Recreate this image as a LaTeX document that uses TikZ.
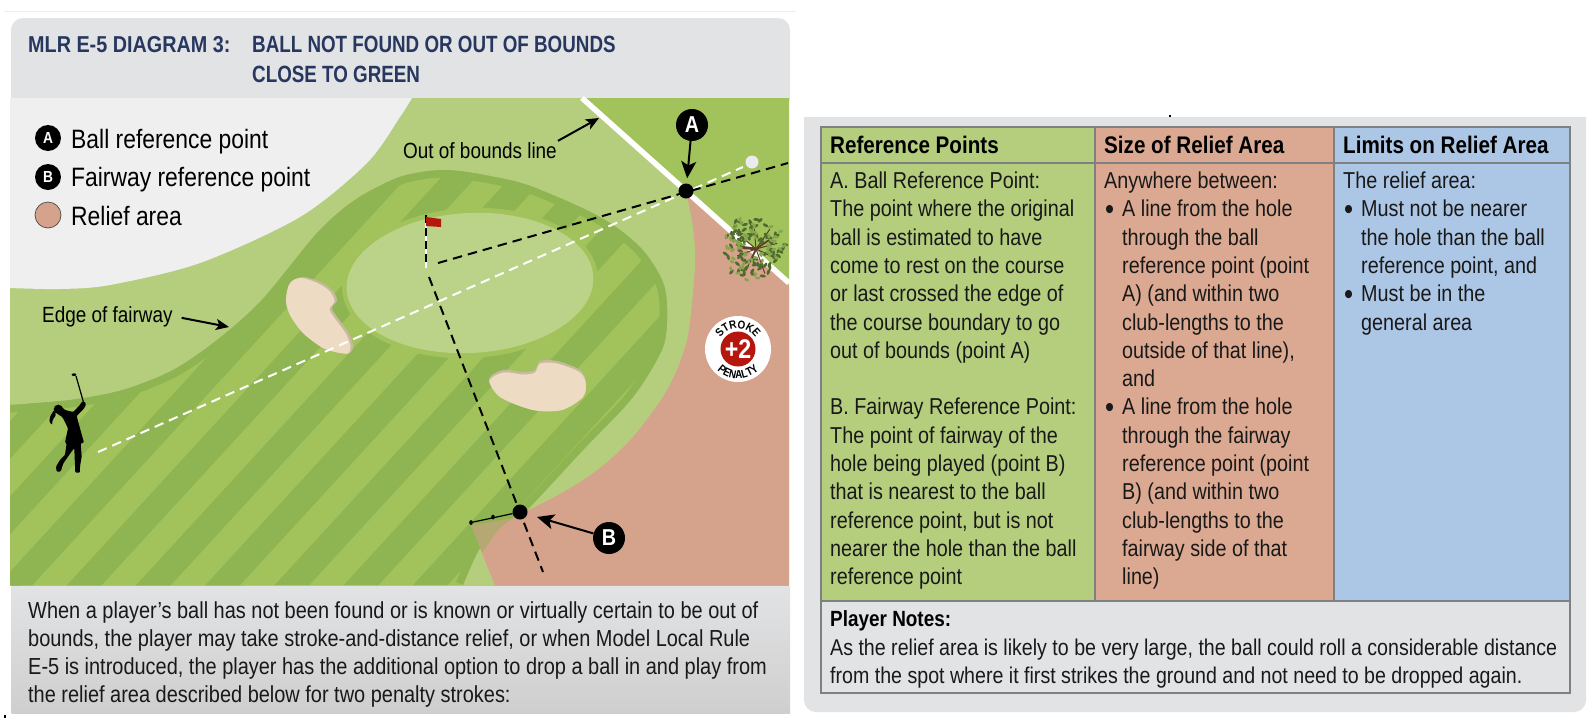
\documentclass[tikz,border=0pt]{standalone}
\usepackage{fontspec}
\setmainfont{Liberation Sans}[FakeStretch=0.86]
\newfontfamily\titlenarrow{Liberation Sans}[FakeStretch=0.80]
\usetikzlibrary{arrows.meta,decorations.text}
\definecolor{panelgrey}{HTML}{E2E3E5}
\definecolor{roughgrey}{HTML}{EFEFF0}
\definecolor{roughgreen}{HTML}{B4CE7E}
\definecolor{lightstripe}{HTML}{A2C25C}
\definecolor{darkstripe}{HTML}{8FB553}
\definecolor{greengreen}{HTML}{BBD388}
\definecolor{reliefpink}{HTML}{D5A28B}
\definecolor{wedgetan}{HTML}{B5A873}
\definecolor{sandlight}{HTML}{EDDCC3}
\definecolor{sanddark}{HTML}{C9B9A2}
\definecolor{navytitle}{HTML}{27375F}
\definecolor{cellgreen}{HTML}{B5CE7E}
\definecolor{cellpink}{HTML}{DBA991}
\definecolor{cellblue}{HTML}{ACC6E6}
\definecolor{tableline}{HTML}{7F8082}
\definecolor{flagred}{HTML}{B5170F}
\definecolor{treebrown}{HTML}{5E3F26}
\definecolor{leafdark}{HTML}{4E6A2E}
\definecolor{leafmid}{HTML}{86A64C}
\newcommand{\bul}{\makebox[18pt][l]{\hspace{1pt}\fontsize{30}{28.3}\selectfont\raisebox{-2.5pt}{\textbullet}}}
\newcommand{\ind}{\hspace*{18pt}}
\def\fairwayedge{plot[smooth] coordinates {(10,405) (70,400) (123,390) (173,370) (217,340) (262,300) (317,233) (355,200) (400,177) (443,170) (490,176) (533,187) (600,217) (640,247) (662,280) (667,307) (663,347) (633,397) (583,450) (527,510) (513,518) (483,543) (463,585)}}
\def\bunkerone{plot[smooth cycle] coordinates {(303,277) (290,283) (286,300) (290,315) (303,333) (323,348) (340,353) (350,353) (353,345) (348,332) (337,317) (332,308) (337,300) (332,290) (320,282)}}
\def\bunkertwo{plot[smooth cycle] coordinates {(489,379) (503,370) (523,372) (535,370) (540,361) (557,361) (580,370) (586,382) (583,397) (562,410) (533,410) (500,397)}}
\tikzset{
	reflabel/.style={circle,fill=black,text=white,inner sep=0pt,minimum size=32pt,font=\fontsize{23}{23}\selectfont\bfseries},
	legmark/.style={circle,fill=black,text=white,inner sep=0pt,minimum size=26pt,font=\fontsize{16}{16}\selectfont\bfseries},
	refdot/.style={circle,fill=black,inner sep=0pt,minimum size=15pt},
	legtext/.style={anchor=base west,inner sep=0pt,text=black,font=\fontsize{26.6}{26.6}\selectfont},
	maptext/.style={anchor=base west,inner sep=1pt,text=black,font=\fontsize{22}{22}\selectfont},
	titletext/.style={anchor=base west,inner sep=0pt,text=navytitle,font=\titlenarrow\fontsize{23.5}{23.5}\selectfont\bfseries},
	celltext/.style={anchor=north west,inner sep=0pt,align=left,text=black!90,font=\fontsize{23}{28.3}\selectfont},
	headtext/.style={anchor=base west,inner sep=0pt,text=black,font=\fontsize{24}{24}\selectfont\bfseries},
	bigarrow/.style={-{Stealth[length=17pt,width=15pt,inset=4pt]},line width=2pt},
	smallarrow/.style={-{Stealth[length=13pt,width=11pt,inset=3pt]},line width=2pt},
	blackdash/.style={black,line width=2pt,dash pattern=on 9.5pt off 6pt},
	whitedash/.style={white,line width=2pt,dash pattern=on 9.5pt off 6pt}
}
\begin{document}
\begin{tikzpicture}[x=1pt,y=-1pt]
				%%%%% PANELS %%%%%
				\useasboundingbox (0,0) rectangle (1594,718);
				\fill[white] (0,0) rectangle (1594,718);
				\fill[black!7] (4,10.5) rectangle (796,12);
				\fill[panelgrey,rounded corners=12pt] (11,110) -- (11,18) -- (790,18) -- (790,110) -- cycle;
				\shade[top color=panelgrey,bottom color=black!19] (11.5,586) rectangle (790,713);
				\fill[black] (4,715) rectangle (6,718);
				
				%%%%% MAP %%%%%
				\fill[roughgreen] (10,98) rectangle (789,586);
				\fill[roughgrey] (10,98) -- (412,98) -- plot[smooth] coordinates {(412,98) (400,117) (367,163) (300,217) (200,263) (110,285) (60,289) (10,288)} -- cycle;
				\fill[lightstripe] (582,98) -- (789,98) -- (789,283) -- cycle;
				
				\fill[lightstripe] \fairwayedge -- (10,585.5) -- cycle;
				\begin{scope}
					\clip \fairwayedge -- (10,585.5) -- cycle;
					\foreach \k in {-7,...,10}{
						\pgfmathsetmacro\xs{-3+69.2*\k}
						\fill[darkstripe] ({\xs},586) -- ({\xs+34.6},586) -- ({\xs+34.6+448},98) -- ({\xs+448},98) -- cycle;
					}
					\draw[darkstripe,line width=15pt] \fairwayedge;
				\end{scope}
				
				\fill[lightstripe,rotate around={3:(470,283)}] (470,283) ellipse [x radius=128,y radius=75];
				\fill[greengreen,rotate around={3:(470,283)}] (470,283) ellipse [x radius=123.5,y radius=70];
				
				%%%%% RELIEF AREA %%%%%
				\fill[reliefpink] plot[smooth] coordinates {(686,191) (693,227) (695,267) (687,340) (667,390) (633,437) (600,468) (567,490) (533,508) (520,513) (500,528) (482,553)} -- (495,585.5) -- (789,585.5) -- (789,285) -- cycle;
				\fill[wedgetan] plot[smooth] coordinates {(514,518) (500,528) (482,553)} -- (471,525) -- cycle;
				\draw[white,line width=5.5pt] (582,98) -- (789,283);
				
				%%%%% BUNKERS %%%%%
				\fill[sanddark] \bunkerone;
				\begin{scope}
					\clip \bunkerone;
					\fill[sandlight,shift={(-2.5,1)}] \bunkerone;
				\end{scope}
				\fill[sanddark] \bunkertwo;
				\begin{scope}
					\clip \bunkertwo;
					\fill[sandlight,shift={(0,2.5)}] \bunkertwo;
				\end{scope}
				
				%%%%% TREE %%%%%
				\begin{scope}[shift={(753,248)}]
					\draw[treebrown,line width=2.8pt,line cap=round] (-14,-1) -- (3,1);
					\foreach \ang/\rad in {160/20,115/24,70/26,25/24,-15/22,-55/24,-95/22,-140/20}{
						\draw[treebrown,line width=1pt] (3,1) -- ++(\ang:\rad);
					}
					\draw[treebrown,line width=1.8pt] (3,1) -- (16,-8);
					\draw[treebrown,line width=1.8pt] (3,1) -- (-3,14);
					\pgfmathsetseed{11}
					\foreach \i in {1,...,85}{
						\pgfmathsetmacro\ang{rnd*360}
						\pgfmathsetmacro\rad{10+rnd*23}
						\pgfmathsetmacro\tilt{rnd*180}
						\fill[leafdark,rotate around={\tilt:(\ang:\rad)}] (\ang:\rad) ellipse [x radius=3,y radius=1.5];
					}
					\foreach \i in {1,...,60}{
						\pgfmathsetmacro\ang{rnd*360}
						\pgfmathsetmacro\rad{10+rnd*23}
						\pgfmathsetmacro\tilt{rnd*180}
						\fill[leafmid,rotate around={\tilt:(\ang:\rad)}] (\ang:\rad) ellipse [x radius=2.6,y radius=1.4];
					}
				\end{scope}
				
				%%%%% LINES %%%%%
				\node[circle,fill=white!92!black,inner sep=0pt,minimum size=13pt] (ball) at (752,162) {};
				\coordinate (golfer) at (98,452);
				\coordinate (hole) at (438,263);
				\coordinate (ballside) at (788,163);
				\coordinate (cuptop) at (429,277);
				\coordinate (cupend) at (543,572);
				\draw[whitedash] (golfer) -- (743,167);
				\draw[blackdash] (hole) -- (ballside);
				\draw[blackdash] (cuptop) -- (cupend);
				
				\draw[white,line width=2pt] (426,215) -- (426,268);
				\draw[black,line width=2pt,dash pattern=on 8pt off 5pt] (426,215) -- (426,266);
				\fill[flagred] (426,217) -- (441,219) -- (441,227) -- (426,226) -- cycle;
				
				%%%%% GOLFER %%%%%
				\begin{scope}[shift={(30,360)},x=0.3333pt,y=-0.3333pt]
					\fill[black] (85,148) circle (14);
					\fill[black] (132,44) ellipse [x radius=7,y radius=4];
					\draw[black,line width=1.2pt] (138,48) -- (160,125);
					\fill[black,rounded corners=1pt] (72,150) -- (60,170) -- (58,185) -- (66,195) -- (68,180) -- (78,165) -- cycle;
					\fill[black,rounded corners=1pt] (95,140) -- (105,150) -- (130,156) -- (152,132) -- (155,125) -- (165,125) -- (168,135) -- (160,148) -- (140,168) -- (150,205) -- (162,248) -- (152,250) -- (155,290) -- (150,320) -- (150,338) -- (136,338) -- (135,320) -- (133,265) -- (128,270) -- (100,310) -- (92,335) -- (80,335) -- (78,320) -- (90,300) -- (105,285) -- (110,250) -- (105,248) -- (114,205) -- (98,172) -- (80,160) -- cycle;
				\end{scope}
				
				%%%%% BADGE %%%%%
				\node[circle,fill=white,inner sep=0pt,minimum size=66pt] (badge) at (738,349) {};
				\node[circle,fill=flagred,text=white,inner sep=0pt,minimum size=35pt,font=\fontsize{27}{27}\selectfont\bfseries] (plustwo) at (738,349) {+2};
				\begin{scope}[shift={(738,349)},y=1pt]
					\path[decorate,decoration={text along path,text align=center,text={|\fontsize{11.5}{11.5}\selectfont\bfseries|STROKE}}] (160:20.5) arc[start angle=160,end angle=20,radius=20.5];
					\path[decorate,decoration={text along path,text align=center,text={|\fontsize{11.5}{11.5}\selectfont\bfseries|PENALTY}}] (200:29.5) arc[start angle=200,end angle=340,radius=29.5];
				\end{scope}
				
				%%%%% LABELS %%%%%
				\node[refdot] (dotA) at (686,191) {};
				\node[refdot] (dotB) at (520,512) {};
				\node[reflabel] (labelA) at (692,125) {A};
				\node[reflabel] (labelB) at (609,538) {B};
				\draw[bigarrow,shorten >=5pt] (labelA) -- (dotA);
				\draw[bigarrow,shorten >=10pt] (labelB) -- (dotB);
				
				\coordinate (clubone) at (493,517);
				\coordinate (clubtwo) at (471,522.5);
				\draw[black,line width=1.2pt] (dotB) -- (clubtwo);
				\fill[black] (clubone) ellipse [x radius=1.8,y radius=2.4];
				\fill[black] (clubtwo) ellipse [x radius=1.8,y radius=2.4];
				
				\node[maptext] (oobtext) at (402,158) {Out of bounds line};
				\coordinate (oobtip) at (599,118);
				\draw[smallarrow] (oobtext.north east) -- (oobtip);
				\node[maptext] (edgetext) at (41,322) {Edge of fairway};
				\coordinate (edgetip) at (229,327);
				\draw[smallarrow,shorten <=8pt] (edgetext.east) -- (edgetip);
				
				\node[legmark] (legA) at (48,138) {A};
				\node[legmark] (legB) at (48,177) {B};
				\node[circle,fill=reliefpink,draw=black!70,line width=0.7pt,inner sep=0pt,minimum size=26pt] (legC) at (48,215) {};
				\node[legtext] (legtextA) at (71,148) {Ball reference point};
				\node[legtext] (legtextB) at (71,186) {Fairway reference point};
				\node[legtext] (legtextC) at (71,225) {Relief area};
				
				\node[titletext,font=\fontsize{23}{23}\selectfont\bfseries] (titleA) at (28,52) {MLR E-5 DIAGRAM 3:};
				\node[titletext] (titleB) at (252,52) {BALL NOT FOUND OR OUT OF BOUNDS};
				\node[titletext] (titleC) at (252,82) {CLOSE TO GREEN};
				
				\node[celltext,font=\fontsize{23.2}{28}\selectfont] (intro) at (28,599) {\strut When a player’s ball has not been found or is known or virtually certain to be out of\\bounds, the player may take stroke-and-distance relief, or when Model Local Rule\\E-5 is introduced, the player has the additional option to drop a ball in and play from\\the relief area described below for two penalty strokes:};
				
				%%%%% TABLE %%%%%
				\fill[panelgrey,rounded corners=12pt] (804,117) -- (804,100) -- (1586,100) -- (1586,712) -- (804,712) -- cycle;
				\fill[white] (800,90) rectangle (1590,117);
				\fill[black] (1169,115) rectangle (1171,117);
				\fill[cellgreen] (821,127) rectangle (1095,601);
				\fill[cellpink] (1095,127) rectangle (1334,601);
				\fill[cellblue] (1334,127) rectangle (1570,601);
				\draw[tableline,line width=1.5pt] (821,127) rectangle (1570,693);
				\draw[tableline,line width=1.5pt] (821,163) -- (1570,163);
				\draw[tableline,line width=1.5pt] (821,601) -- (1570,601);
				\draw[tableline,line width=1.5pt] (1095,127) -- (1095,601);
				\draw[tableline,line width=1.5pt] (1334,127) -- (1334,601);
				
				\node[headtext] (headA) at (830,153) {Reference Points};
				\node[headtext] (headB) at (1104,153) {Size of Relief Area};
				\node[headtext] (headC) at (1343,153) {Limits on Relief Area};
				
				\node[celltext] (cellA) at (830,168.5) {\strut A. Ball Reference Point:\\The point where the original\\ball is estimated to have\\come to rest on the course\\or last crossed the edge of\\the course boundary to go\\out of bounds (point A)\\ \\B. Fairway Reference Point:\\The point of fairway of the\\hole being played (point B)\\that is nearest to the ball\\reference point, but is not\\nearer the hole than the ball\\reference point};
				\node[celltext] (cellB) at (1104,168.5) {\strut Anywhere between:\\\bul A line from the hole\\\ind through the ball\\\ind reference point (point\\\ind A) (and within two\\\ind club-lengths to the\\\ind outside of that line),\\\ind and\\\bul A line from the hole\\\ind through the fairway\\\ind reference point (point\\\ind B) (and within two\\\ind club-lengths to the\\\ind fairway side of that\\\ind line)};
				\node[celltext] (cellC) at (1343,168.5) {\strut The relief area:\\\bul Must not be nearer\\\ind the hole than the ball\\\ind reference point, and\\\bul Must be in the\\\ind general area};
				\node[headtext,font=\fontsize{22}{22}\selectfont\bfseries] (notehead) at (830,626) {Player Notes:};
				\node[celltext,font=\fontsize{22.8}{28.3}\selectfont] (notes) at (830,635.5) {\strut As the relief area is likely to be very large, the ball could roll a considerable distance\\from the spot where it first strikes the ground and not need to be dropped again.};
\end{tikzpicture}
\end{document}
